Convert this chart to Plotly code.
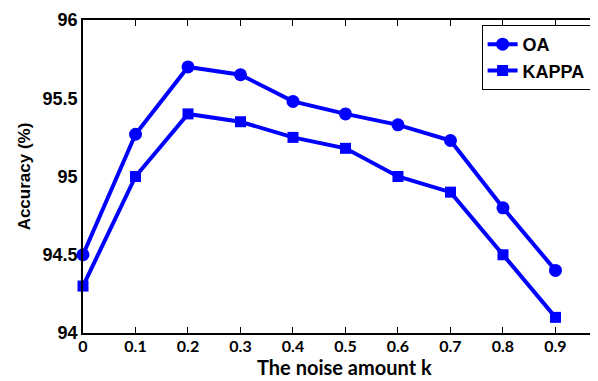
import plotly.graph_objects as go

k_values = [0, 0.1, 0.2, 0.3, 0.4, 0.5, 0.6, 0.7, 0.8, 0.9]
oa = [94.50, 95.27, 95.70, 95.65, 95.48, 95.40, 95.33, 95.23, 94.80, 94.40]
kappa = [94.30, 95.00, 95.40, 95.35, 95.25, 95.18, 95.00, 94.90, 94.50, 94.10]
x_ticks = [0, 0.1, 0.2, 0.3, 0.4, 0.5, 0.6, 0.7, 0.8, 0.9]
x_tick_labels = ["0", "0.1", "0.2", "0.3", "0.4", "0.5", "0.6", "0.7", "0.8", "0.9"]
y_ticks = [94, 94.5, 95, 95.5, 96]
y_tick_labels = ["94", "94.5", "95", "95.5", "96"]
x_title = "The noise amount k"

blue = "#0000FF"
fig = go.Figure()
fig.add_trace(go.Scatter(x=k_values, y=oa, name="OA", mode="lines+markers",
                         line=dict(color=blue, width=4),
                         marker=dict(symbol="circle", size=13, color=blue),
                         cliponaxis=False))
fig.add_trace(go.Scatter(x=k_values, y=kappa, name="KAPPA", mode="lines+markers",
                         line=dict(color=blue, width=4),
                         marker=dict(symbol="square", size=11, color=blue),
                         cliponaxis=False))

# page body has an 8px margin, so the figure is 8px smaller and margins shifted
fig.update_layout(
    width=590, height=373,
    margin=dict(l=75, r=0, t=12, b=48, autoexpand=False),
    paper_bgcolor="white", plot_bgcolor="white",
    showlegend=True,
    legend=dict(x=0.774, y=0.984, xanchor="left", yanchor="top",
                bordercolor="black", borderwidth=1, bgcolor="white",
                font=dict(family="Liberation Sans", size=18, color="black", weight="bold"),
                tracegroupgap=0, itemwidth=30),
    font=dict(family="Liberation Sans", color="black"),
)
fig.update_xaxes(range=[0, 0.981], tickvals=x_ticks, ticktext=x_tick_labels,
                 showgrid=False, zeroline=False, showline=True, linecolor="black", linewidth=1.5,
                 mirror="ticks", ticks="inside", ticklen=6, tickcolor="black", tickwidth=1,
                 automargin=False, ticklabelstandoff=-2,
                 tickfont=dict(family="Lato", size=16, color="black", weight="bold"))
fig.update_yaxes(range=[94, 96], tickvals=y_ticks, ticktext=y_tick_labels,
                 showgrid=False, zeroline=False, showline=True, linecolor="black", linewidth=1.5,
                 ticks="", mirror=False, automargin=False,
                 tickfont=dict(family="Liberation Sans", size=18, color="black", weight="bold"),
                 title=dict(text="Accuracy (%)", standoff=8,
                            font=dict(family="Liberation Sans", size=17, color="black", weight="bold")))
fig.add_annotation(text=x_title, xref="paper", yref="paper", x=0.508, y=-0.153,
                   xanchor="center", yanchor="bottom", showarrow=False,
                   font=dict(family="Lato", size=20, color="black", weight="bold"))

fig.write_html("out.html")
